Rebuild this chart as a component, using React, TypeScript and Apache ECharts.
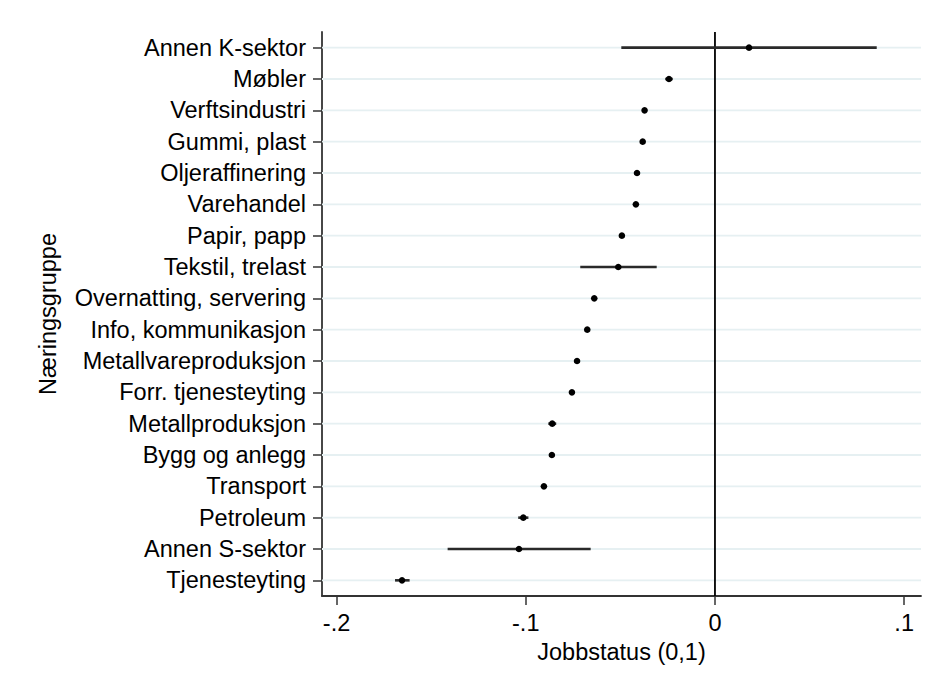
import React, { useEffect, useRef } from "react";
import * as echarts from "echarts";

const categories = [
  "Annen K-sektor",
  "Møbler",
  "Verftsindustri",
  "Gummi, plast",
  "Oljeraffinering",
  "Varehandel",
  "Papir, papp",
  "Tekstil, trelast",
  "Overnatting, servering",
  "Info, kommunikasjon",
  "Metallvareproduksjon",
  "Forr. tjenesteyting",
  "Metallproduksjon",
  "Bygg og anlegg",
  "Transport",
  "Petroleum",
  "Annen S-sektor",
  "Tjenesteyting",
];
const estimates = [0.018, -0.0243, -0.0372, -0.0382, -0.0412, -0.0418, -0.0492, -0.0511, -0.0638, -0.0675, -0.0729, -0.0756, -0.086, -0.0862, -0.0904, -0.1013, -0.1036, -0.1654];
const ciLow = [-0.0495, -0.0263, -0.038, -0.0387, -0.0416, -0.0422, -0.0496, -0.0712, -0.0642, -0.0679, -0.0733, -0.076, -0.0881, -0.0866, -0.0908, -0.104, -0.1413, -0.1691];
const ciHigh = [0.0855, -0.0223, -0.0364, -0.0377, -0.0408, -0.0414, -0.0488, -0.0308, -0.0634, -0.0671, -0.0725, -0.0752, -0.0839, -0.0858, -0.09, -0.0986, -0.0657, -0.1614];
const xTicks = [-0.2, -0.1, 0, 0.1];
const xTickLabels = ["-.2", "-.1", "0", ".1"];
const xTitle = "Jobbstatus (0,1)";
const yTitle = "Næringsgruppe";

const FONT = "'Liberation Sans', Arial, sans-serif";

export default function App() {
  const ref = useRef<HTMLDivElement>(null);
  useEffect(() => {
    if (!ref.current) return;
    const chart = echarts.init(ref.current, null, { renderer: "svg" });
    const axisColor = "#333333";
    chart.setOption({
      animation: false,
      backgroundColor: "#ffffff",
      textStyle: { fontFamily: FONT },
      grid: { left: 322, right: 9, top: 32, bottom: 88, containLabel: false },
      xAxis: {
        type: "value",
        min: -0.2077,
        max: 0.1089,
        name: xTitle,
        nameLocation: "middle",
        nameGap: 36,
        nameTextStyle: { fontSize: 23.5, color: "#000", fontFamily: FONT },
        axisLine: { show: true, onZero: false, lineStyle: { color: axisColor, width: 1.8 } },
        axisTick: {
          show: true,
          length: 9,
          customValues: xTicks,
          lineStyle: { color: axisColor, width: 1.5 },
        },
        axisLabel: {
          customValues: xTicks,
          fontSize: 23.5,
          color: "#000",
          margin: 15,
          fontFamily: FONT,
          formatter: (v: number) => {
            const i = xTicks.findIndex((t) => Math.abs(t - v) < 1e-9);
            return i >= 0 ? xTickLabels[i] : "";
          },
        },
        splitLine: { show: false },
      },
      yAxis: {
        type: "category",
        inverse: true,
        data: categories,
        name: yTitle,
        nameLocation: "middle",
        nameGap: 262,
        nameRotate: 90,
        nameTextStyle: { fontSize: 23.5, color: "#000", fontFamily: FONT },
        axisLine: { show: true, onZero: false, lineStyle: { color: axisColor, width: 1.8 } },
        axisTick: {
          show: true,
          alignWithLabel: true,
          length: 9,
          lineStyle: { color: axisColor, width: 1.5 },
        },
        axisLabel: { fontSize: 23.5, color: "#000", margin: 16, fontFamily: FONT, interval: 0 },
        splitLine: { show: false },
      },
      series: [
        {
          type: "custom",
          name: "grid",
          silent: true,
          z: 1,
          data: categories.map((_, i) => [0, i]),
          renderItem: (params: any, api: any) => {
            const cs = params.coordSys;
            const y = api.coord([0, api.value(1)])[1];
            return {
              type: "line",
              shape: { x1: cs.x, y1: y, x2: cs.x + cs.width, y2: y },
              style: { stroke: "#e6f0f2", lineWidth: 1.8 },
            };
          },
        },
        {
          type: "custom",
          name: "zero",
          silent: true,
          z: 2,
          data: [[0, 0]],
          renderItem: (params: any, api: any) => {
            const cs = params.coordSys;
            const x = api.coord([api.value(0), 0])[0];
            return {
              type: "line",
              shape: { x1: x, y1: cs.y, x2: x, y2: cs.y + cs.height },
              style: { stroke: "#000", lineWidth: 1.8 },
            };
          },
        },
        {
          type: "custom",
          name: "estimates",
          silent: true,
          z: 3,
          data: categories.map((_, i) => [estimates[i], i, ciLow[i], ciHigh[i]]),
          renderItem: (params: any, api: any) => {
            const idx = api.value(1);
            const p = api.coord([api.value(0), idx]);
            const lo = api.coord([api.value(2), idx]);
            const hi = api.coord([api.value(3), idx]);
            return {
              type: "group",
              children: [
                {
                  type: "line",
                  shape: { x1: lo[0], y1: lo[1], x2: hi[0], y2: hi[1] },
                  style: { stroke: "#2a2a2a", lineWidth: 2.6 },
                },
                {
                  type: "circle",
                  shape: { cx: p[0], cy: p[1], r: 3.3 },
                  style: { fill: "#000" },
                },
              ],
            };
          },
        },
      ],
    });
    return () => chart.dispose();
  }, []);
  return (
    <div
      ref={ref}
      style={{ position: "fixed", left: 0, top: 0, width: 930, height: 684, background: "#fff" }}
    />
  );
}
